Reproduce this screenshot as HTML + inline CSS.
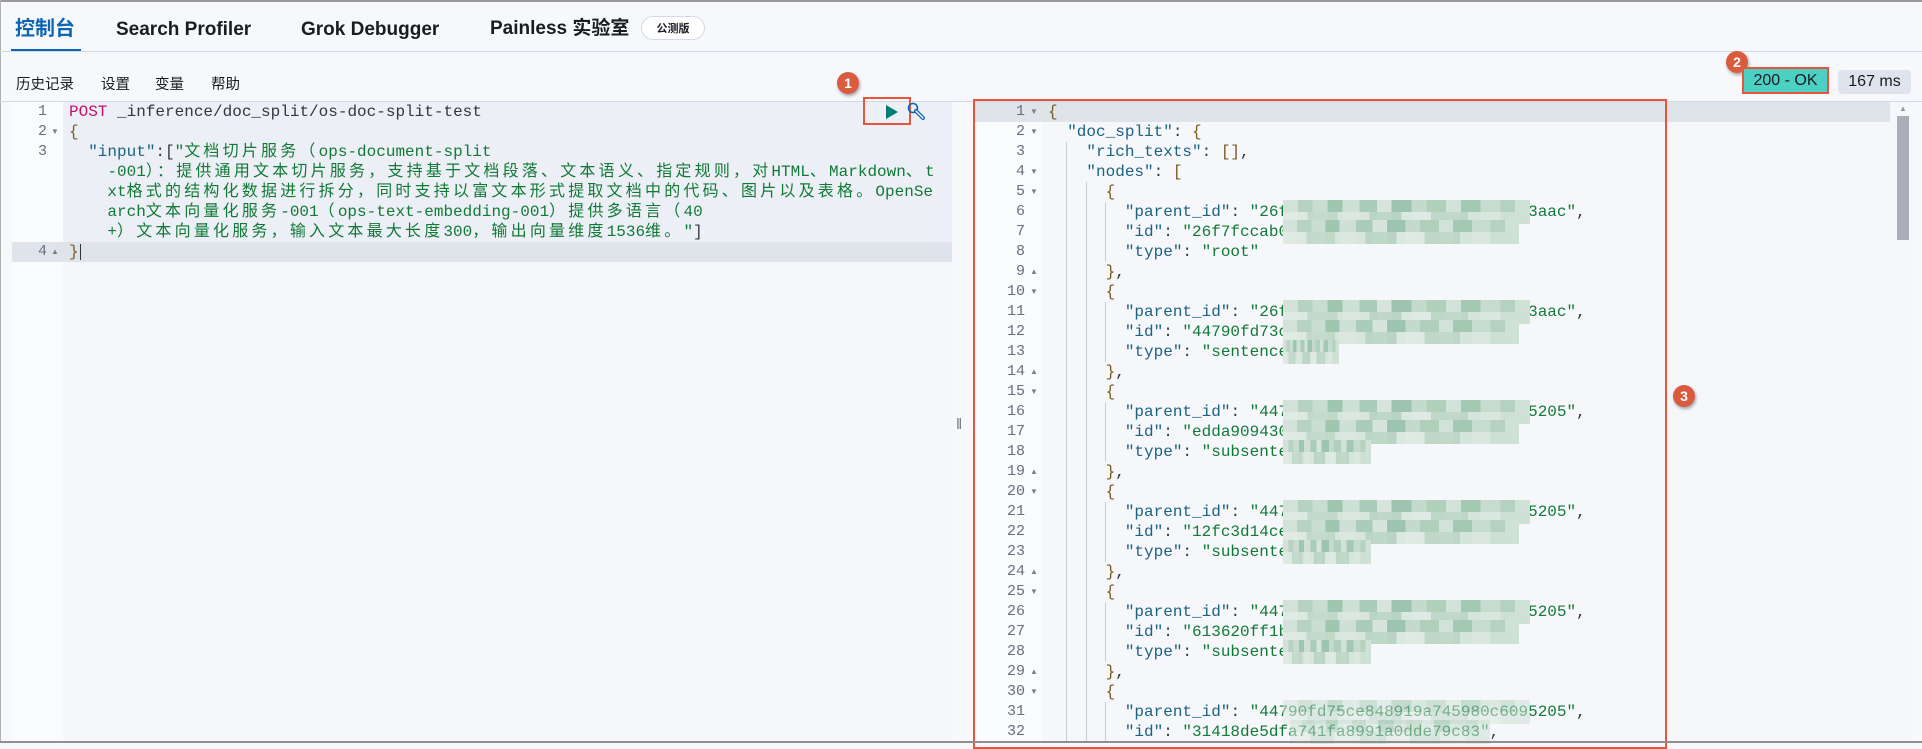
<!DOCTYPE html>
<html><head><meta charset="utf-8"><style>
*{margin:0;padding:0;box-sizing:border-box}
body{width:1922px;height:743px;position:relative;overflow:hidden;background:#f7f8fc;font-family:"Liberation Sans","Noto Sans CJK SC",sans-serif;}
.abs{position:absolute}
.tab{position:absolute;top:12px;height:30px;line-height:30px;font-size:19px;font-weight:bold;color:#1a1c21;white-space:nowrap}
.tab span,.tab.cj{font-family:"Noto Sans CJK SC",sans-serif}
.tb{position:absolute;top:73px;font-size:14.5px;color:#1a1c21;font-family:"Noto Sans CJK SC",sans-serif}
.badge{position:absolute;width:22px;height:22px;border-radius:50%;background:#d95c3f;color:#fff;font-weight:bold;font-size:14px;text-align:center;line-height:22px;box-shadow:1px 2px 3px rgba(0,0,0,.35)}
.code{position:absolute;font-family:"Liberation Mono","Noto Sans CJK SC",monospace;font-size:16px;white-space:pre;line-height:20px;height:20px;color:#343741}
.k{letter-spacing:3.2px}
.num{position:absolute;font-family:"Liberation Mono",monospace;font-size:15px;line-height:20px;color:#69707d;text-align:right;width:30px}
.fa{position:absolute;font-size:8px;color:#7a7f88;line-height:20px}
.key{color:#1c6283}.str{color:#127a37}.br{color:#7a5c1e}.kw{color:#c4106a}
.blur{position:absolute;height:24px;background:
linear-gradient(90deg,#d3e2d8 0 6%,#b7d2c0 6% 12%,#c9ddd1 12% 18%,#9fc7b0 18% 24%,#cfe1d6 24% 31%,#a9cdb8 31% 38%,#d6e4dc 38% 44%,#9cc4ae 44% 52%,#c4dacc 52% 58%,#b0d0bc 58% 66%,#d1e3d8 66% 72%,#a3c9b3 72% 80%,#c6dccf 80% 88%,#b4d2bf 88% 94%,#d0e1d6 94%);}
.blur:after{content:"";position:absolute;left:0;right:0;top:12px;height:12px;background:linear-gradient(90deg,#e0ebe4 0 10%,#c3dacb 10% 22%,#dce8e0 22% 35%,#bcd6c5 35% 48%,#e2ece6 48% 60%,#c0d8c8 60% 75%,#dbe8e0 75% 88%,#cfe1d5 88%);opacity:.9}
.light{opacity:.55}
</style></head><body>
<div class="abs" style="left:0;top:0;width:1922px;height:2px;background:#9a9a9a"></div>
<div class="abs" style="left:0;top:0;width:1px;height:743px;background:#b0b0b0"></div>
<div class="tab cj" style="left:15px;color:#0b64b4;font-size:20px">控制台</div>
<div class="tab" style="left:116px;top:15px">Search Profiler</div>
<div class="tab" style="left:301px;top:15px">Grok Debugger</div>
<div class="tab" style="left:490px">Painless <span>实验室</span></div>
<div class="abs" style="left:641px;top:16px;width:64px;height:24px;border:1px solid #d3dae6;border-radius:12px;background:#fff;font-size:11px;font-weight:bold;text-align:center;line-height:22px;font-family:'Noto Sans CJK SC',sans-serif;color:#1a1c21">公测版</div>
<div class="abs" style="left:11px;top:49px;width:70px;height:3px;background:#0b64b4"></div>
<div class="abs" style="left:0;top:51px;width:1922px;height:1px;background:#d3dae6"></div>
<div class="tb" style="left:16px">历史记录</div>
<div class="tb" style="left:101px">设置</div>
<div class="tb" style="left:155px">变量</div>
<div class="tb" style="left:211px">帮助</div>
<div class="badge" style="left:837px;top:72px">1</div>
<div class="badge" style="left:1726px;top:51px">2</div>
<div class="abs" style="left:1742px;top:67px;width:87px;height:27px;border:2px solid #e8553a;background:#4dd0c4;font-size:16px;text-align:center;line-height:23px;color:#1a1c21">200 - OK</div>
<div class="abs" style="left:1838px;top:70px;width:73px;height:24px;border-radius:4px;background:#dfe3eb;font-size:16px;text-align:center;line-height:24px;color:#1a1c21">167 ms</div>
<div class="abs" style="left:0;top:101px;width:1922px;height:1px;background:#d3dae6"></div>

<div class="abs" style="left:12px;top:102px;width:940px;height:641px;background:#f5f7fa"></div>
<div class="abs" style="left:12px;top:102px;width:51px;height:641px;background:#fafbfd"></div>
<div class="abs" style="left:63px;top:102px;width:889px;height:140px;background:#eceff5"></div>
<div class="abs" style="left:12px;top:242px;width:940px;height:20px;background:#dfe4eb"></div>
<div class="num" style="left:17px;top:102px">1</div>
<div class="num" style="left:17px;top:122px">2</div><div class="fa" style="left:51px;top:122px">▼</div>
<div class="num" style="left:17px;top:142px">3</div>
<div class="num" style="left:17px;top:242px">4</div><div class="fa" style="left:51px;top:242px">▲</div>
<div class="code" style="left:69px;top:102px"><span class="kw">POST</span> _inference/doc_split/os-doc-split-test</div>
<div class="code br" style="left:69px;top:122px">{</div>
<div class="code" style="left:69px;top:142px">  <span class="key">"input"</span>:[<span class="str">"<span class="k">文档切片服务（</span>ops-document-split</span></div>
<div class="code str" style="left:69px;top:162px">    -001<span class="k">）：提供通用文本切片服务，支持基于文档段落、文本语义、指定规则，对</span>HTML<span class="k">、</span>Markdown<span class="k">、</span>t</div>
<div class="code str" style="left:69px;top:182px">    xt<span class="k">格式的结构化数据进行拆分，同时支持以富文本形式提取文档中的代码、图片以及表格。</span>OpenSe</div>
<div class="code str" style="left:69px;top:202px">    arch<span class="k">文本向量化服务</span>-001<span class="k">（</span>ops-text-embedding-001<span class="k">）提供多语言（</span>40</div>
<div class="code str" style="left:69px;top:222px">    +<span class="k">）文本向量化服务，输入文本最大长度</span>300<span class="k">，输出向量维度</span>1536<span class="k">维。</span>"<span style="color:#343741">]</span></div>
<div class="code br" style="left:69px;top:242px">}</div>
<div class="abs" style="left:80px;top:244px;width:1px;height:16px;background:#333"></div>
<div class="abs" style="left:863px;top:97px;width:48px;height:28px;border:2px solid #e8553a"></div>
<div class="abs" style="left:886px;top:105px;width:0;height:0;border-top:7px solid transparent;border-bottom:7px solid transparent;border-left:12px solid #017d73"></div>
<svg class="abs" style="left:906px;top:101px" width="22" height="22" viewBox="0 0 22 22"><circle cx="7" cy="7" r="4.5" fill="none" stroke="#0b64b4" stroke-width="1.6"/><path d="M10 10 L17 17" stroke="#0b64b4" stroke-width="4" stroke-linecap="round"/><path d="M10 10 L17 17" stroke="#f7f8fc" stroke-width="1.5" stroke-linecap="round"/></svg>
<div class="abs" style="left:956px;top:416px;font-size:15px;color:#6a717d">‖</div>

<div class="abs" style="left:975px;top:102px;width:936px;height:641px;background:#f5f7fa"></div>
<div class="abs" style="left:975px;top:102px;width:67px;height:641px;background:#fafbfd"></div>
<div class="abs" style="left:975px;top:102px;width:915px;height:20px;background:#dfe4eb"></div>
<div class="abs" style="left:1897px;top:116px;width:12px;height:124px;background:#aaaeb6"></div>
<div class="abs" style="left:1899px;top:104px;font-size:8px;color:#999">▲</div>
<div class="abs" style="left:1066px;top:142px;width:1px;height:601px;background:#c8ccd3"></div>
<div class="abs" style="left:1086px;top:182px;width:1px;height:561px;background:#c8ccd3"></div>
<div class="abs" style="left:1105px;top:202px;width:1px;height:60px;background:#c8ccd3"></div>
<div class="abs" style="left:1105px;top:302px;width:1px;height:60px;background:#c8ccd3"></div>
<div class="abs" style="left:1105px;top:402px;width:1px;height:60px;background:#c8ccd3"></div>
<div class="abs" style="left:1105px;top:502px;width:1px;height:60px;background:#c8ccd3"></div>
<div class="abs" style="left:1105px;top:602px;width:1px;height:60px;background:#c8ccd3"></div>
<div class="abs" style="left:1105px;top:702px;width:1px;height:41px;background:#c8ccd3"></div>

<div class="num" style="left:995px;top:102px">1</div><div class="fa" style="left:1030px;top:102px">▼</div>
<div class="num" style="left:995px;top:122px">2</div><div class="fa" style="left:1030px;top:122px">▼</div>
<div class="num" style="left:995px;top:142px">3</div>
<div class="num" style="left:995px;top:162px">4</div><div class="fa" style="left:1030px;top:162px">▼</div>
<div class="num" style="left:995px;top:182px">5</div><div class="fa" style="left:1030px;top:182px">▼</div>
<div class="num" style="left:995px;top:202px">6</div>
<div class="num" style="left:995px;top:222px">7</div>
<div class="num" style="left:995px;top:242px">8</div>
<div class="num" style="left:995px;top:262px">9</div><div class="fa" style="left:1030px;top:262px">▲</div>
<div class="num" style="left:995px;top:282px">10</div><div class="fa" style="left:1030px;top:282px">▼</div>
<div class="num" style="left:995px;top:302px">11</div>
<div class="num" style="left:995px;top:322px">12</div>
<div class="num" style="left:995px;top:342px">13</div>
<div class="num" style="left:995px;top:362px">14</div><div class="fa" style="left:1030px;top:362px">▲</div>
<div class="num" style="left:995px;top:382px">15</div><div class="fa" style="left:1030px;top:382px">▼</div>
<div class="num" style="left:995px;top:402px">16</div>
<div class="num" style="left:995px;top:422px">17</div>
<div class="num" style="left:995px;top:442px">18</div>
<div class="num" style="left:995px;top:462px">19</div><div class="fa" style="left:1030px;top:462px">▲</div>
<div class="num" style="left:995px;top:482px">20</div><div class="fa" style="left:1030px;top:482px">▼</div>
<div class="num" style="left:995px;top:502px">21</div>
<div class="num" style="left:995px;top:522px">22</div>
<div class="num" style="left:995px;top:542px">23</div>
<div class="num" style="left:995px;top:562px">24</div><div class="fa" style="left:1030px;top:562px">▲</div>
<div class="num" style="left:995px;top:582px">25</div><div class="fa" style="left:1030px;top:582px">▼</div>
<div class="num" style="left:995px;top:602px">26</div>
<div class="num" style="left:995px;top:622px">27</div>
<div class="num" style="left:995px;top:642px">28</div>
<div class="num" style="left:995px;top:662px">29</div><div class="fa" style="left:1030px;top:662px">▲</div>
<div class="num" style="left:995px;top:682px">30</div><div class="fa" style="left:1030px;top:682px">▼</div>
<div class="num" style="left:995px;top:702px">31</div>
<div class="num" style="left:995px;top:722px">32</div>

<div class="code br" style="left:1048px;top:102px">{</div>
<div class="code" style="left:1048px;top:122px">  <span class="key">"doc_split"</span>: <span class="br">{</span></div>
<div class="code" style="left:1048px;top:142px">    <span class="key">"rich_texts"</span>: <span class="br">[]</span>,</div>
<div class="code" style="left:1048px;top:162px">    <span class="key">"nodes"</span>: <span class="br">[</span></div>
<div class="code br" style="left:1048px;top:182px">      {</div>
<div class="code" style="left:1048px;top:202px">        <span class="key">"parent_id"</span>: <span class="str">"26f1a2b3c4d5e6f7a8b9c0d1e2f33aac"</span>,</div>
<div class="code" style="left:1048px;top:222px">        <span class="key">"id"</span>: <span class="str">"26f7fccab0000000000000000000</span></div>
<div class="code" style="left:1048px;top:242px">        <span class="key">"type"</span>: <span class="str">"root"</span></div>
<div class="code" style="left:1048px;top:262px">      <span class="br">}</span>,</div>
<div class="code br" style="left:1048px;top:282px">      {</div>
<div class="code" style="left:1048px;top:302px">        <span class="key">"parent_id"</span>: <span class="str">"26f1a2b3c4d5e6f7a8b9c0d1e2f33aac"</span>,</div>
<div class="code" style="left:1048px;top:322px">        <span class="key">"id"</span>: <span class="str">"44790fd73c00000000000000000</span></div>
<div class="code" style="left:1048px;top:342px">        <span class="key">"type"</span>: <span class="str">"sentence</span></div>
<div class="code" style="left:1048px;top:362px">      <span class="br">}</span>,</div>
<div class="code br" style="left:1048px;top:382px">      {</div>
<div class="code" style="left:1048px;top:402px">        <span class="key">"parent_id"</span>: <span class="str">"44790fd75ce848919a745980c6095205"</span>,</div>
<div class="code" style="left:1048px;top:422px">        <span class="key">"id"</span>: <span class="str">"edda90943000000000000000000</span></div>
<div class="code" style="left:1048px;top:442px">        <span class="key">"type"</span>: <span class="str">"subsente</span></div>
<div class="code" style="left:1048px;top:462px">      <span class="br">}</span>,</div>
<div class="code br" style="left:1048px;top:482px">      {</div>
<div class="code" style="left:1048px;top:502px">        <span class="key">"parent_id"</span>: <span class="str">"44790fd75ce848919a745980c6095205"</span>,</div>
<div class="code" style="left:1048px;top:522px">        <span class="key">"id"</span>: <span class="str">"12fc3d14ce00000000000000000</span></div>
<div class="code" style="left:1048px;top:542px">        <span class="key">"type"</span>: <span class="str">"subsente</span></div>
<div class="code" style="left:1048px;top:562px">      <span class="br">}</span>,</div>
<div class="code br" style="left:1048px;top:582px">      {</div>
<div class="code" style="left:1048px;top:602px">        <span class="key">"parent_id"</span>: <span class="str">"44790fd75ce848919a745980c6095205"</span>,</div>
<div class="code" style="left:1048px;top:622px">        <span class="key">"id"</span>: <span class="str">"613620ff1b000000000000000000</span></div>
<div class="code" style="left:1048px;top:642px">        <span class="key">"type"</span>: <span class="str">"subsente</span></div>
<div class="code" style="left:1048px;top:662px">      <span class="br">}</span>,</div>
<div class="code br" style="left:1048px;top:682px">      {</div>
<div class="code" style="left:1048px;top:702px">        <span class="key">"parent_id"</span>: <span class="str">"44790fd75ce848919a745980c6095205"</span>,</div>
<div class="code" style="left:1048px;top:722px">        <span class="key">"id"</span>: <span class="str">"31418de5dfa741fa8991a0dde79c83"</span>,</div>

<div class="blur" style="left:1283px;top:200px;width:247px"></div>
<div class="blur" style="left:1283px;top:220px;width:236px"></div>
<div class="blur" style="left:1283px;top:300px;width:247px"></div>
<div class="blur" style="left:1283px;top:320px;width:236px"></div>
<div class="blur" style="left:1283px;top:340px;width:56px"></div>
<div class="blur" style="left:1283px;top:400px;width:247px"></div>
<div class="blur" style="left:1283px;top:420px;width:236px"></div>
<div class="blur" style="left:1283px;top:440px;width:88px"></div>
<div class="blur" style="left:1283px;top:500px;width:247px"></div>
<div class="blur" style="left:1283px;top:520px;width:236px"></div>
<div class="blur" style="left:1283px;top:540px;width:88px"></div>
<div class="blur" style="left:1283px;top:600px;width:247px"></div>
<div class="blur" style="left:1283px;top:620px;width:236px"></div>
<div class="blur" style="left:1283px;top:640px;width:88px"></div>
<div class="blur light" style="left:1283px;top:700px;width:247px"></div>
<div class="blur light" style="left:1290px;top:720px;width:200px"></div>

<div class="abs" style="left:973px;top:99px;width:694px;height:650px;border:2px solid #e8553a"></div>
<div class="badge" style="left:1673px;top:385px">3</div>
<div class="abs" style="left:0;top:741px;width:1922px;height:2px;background:#8f8f8f"></div>
</body></html>
